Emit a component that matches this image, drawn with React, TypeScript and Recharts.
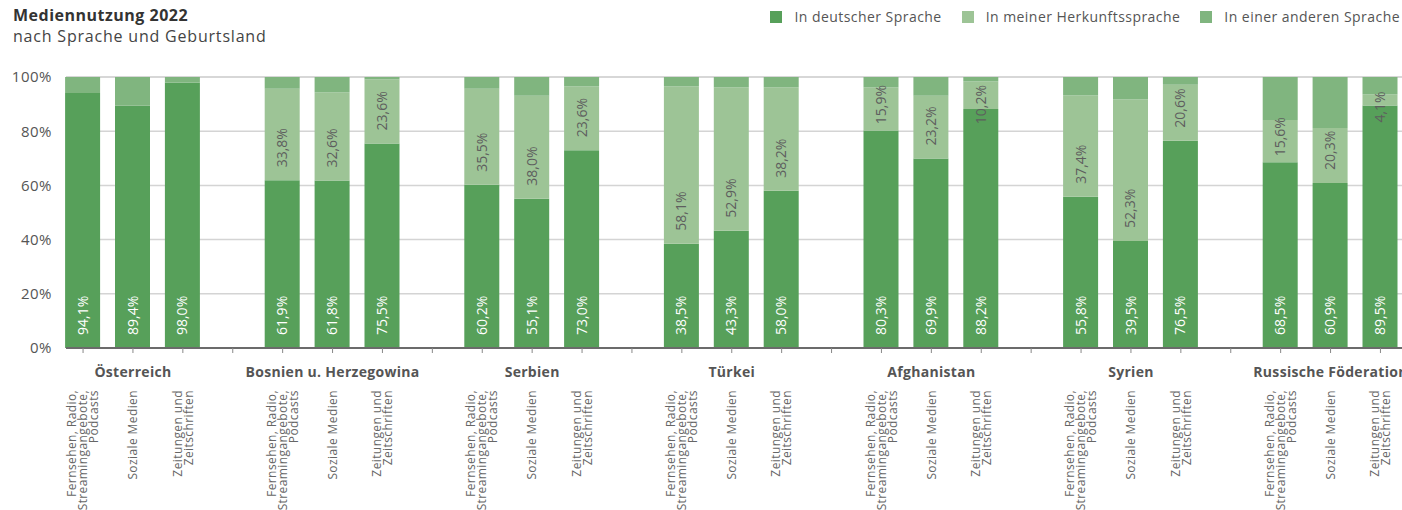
import React from 'react';
import { BarChart, Bar, XAxis, YAxis, CartesianGrid, LabelList } from 'recharts';

const countries = ['Österreich', 'Bosnien u. Herzegowina', 'Serbien', 'Türkei', 'Afghanistan', 'Syrien', 'Russische Föderation'];
const mediaLabels = [
  ['Fernsehen, Radio,', 'Streamingangebote,', 'Podcasts'],
  ['Soziale Medien'],
  ['Zeitungen und', 'Zeitschriften'],
];
const deutschValues = [94.1, 89.4, 98.0, 61.9, 61.8, 75.5, 60.2, 55.1, 73.0, 38.5, 43.3, 58.0, 80.3, 69.9, 88.2, 55.8, 39.5, 76.5, 68.5, 60.9, 89.5];
const herkunftValues = [null, null, null, 33.8, 32.6, 23.6, 35.5, 38.0, 23.6, 58.1, 52.9, 38.2, 15.9, 23.2, 10.2, 37.4, 52.3, 20.6, 15.6, 20.3, 4.1];
const andereValues = [5.9, 10.6, 2.0, 4.3, 5.6, 0.9, 4.3, 6.9, 3.4, 3.4, 3.8, 3.8, 3.8, 6.9, 1.6, 6.8, 8.2, 2.9, 15.9, 18.8, 6.4];
const yTicks = [0, 20, 40, 60, 80, 100];
const seriesNames = ['In deutscher Sprache', 'In meiner Herkunftssprache', 'In einer anderen Sprache'];
const seriesColors = ['#57a05a', '#9dc496', '#80b57f'];

const FONT = "'Open Sans', sans-serif";

const rows: any[] = [];
countries.forEach((c, ci) => {
  mediaLabels.forEach((m, mi) => {
    const i = ci * 3 + mi;
    rows.push({ id: `${ci}-${mi}`, de: deutschValues[i], herk: herkunftValues[i], andere: andereValues[i] });
  });
  rows.push({ id: `${ci}-gap` });
});

const fmt = (v: number) => v.toFixed(1).replace('.', ',') + '%';

const XTick = (props: any) => {
  const { x, y, payload } = props;
  const [cis, mis] = String(payload.value).split('-');
  if (mis === 'gap') return null;
  const ci = Number(cis);
  const mi = Number(mis);
  const lines = mediaLabels[mi];
  const cy = y + 37;
  return (
    <g>
      {mi === 1 && (
        <text x={x} y={y + 24} textAnchor="middle" fontWeight="bold" fontSize={14} fill="#555" fontFamily={FONT} letterSpacing={0.3}>
          {countries[ci]}
        </text>
      )}
      <text transform={`rotate(-90 ${x} ${cy})`} textAnchor="end" fontSize={12} fill="#666" fontFamily={FONT} letterSpacing={0.4}>
        {lines.map((l, k) => (
          <tspan key={k} x={x} y={cy + (k - (lines.length - 1) / 2) * 11 + 4.2}>
            {l}
          </tspan>
        ))}
      </text>
    </g>
  );
};

const deLabel = (p: any) => {
  const { x, y, width, height, value } = p;
  if (value == null) return null;
  const cx = Number(x) + Number(width) / 2;
  const by = Number(y) + Number(height) - 13;
  return (
    <text transform={`rotate(-90 ${cx} ${by})`} x={cx} y={by + 5} textAnchor="start" fill="#fff" fontSize={14} fontFamily={FONT}>
      {fmt(value)}
    </text>
  );
};

const herkLabel = (p: any) => {
  const { x, y, width, height, value } = p;
  if (value == null) return null;
  const cx = Number(x) + Number(width) / 2;
  const top = Number(y);
  const bottom = Number(y) + Number(height);
  const L = 39;
  const start = bottom - 13;
  if (start - L >= top - 3) {
    return (
      <text transform={`rotate(-90 ${cx} ${start})`} x={cx} y={start + 5} textAnchor="start" fill="#5e5e5e" fontSize={14} fontFamily={FONT}>
        {fmt(value)}
      </text>
    );
  }
  const end = Math.max(top - 3, 85);
  return (
    <text transform={`rotate(-90 ${cx} ${end})`} x={cx} y={end + 5} textAnchor="end" fill="#5e5e5e" fontSize={14} fontFamily={FONT}>
      {fmt(value)}
    </text>
  );
};

export default function App() {
  return (
    <div style={{ position: 'absolute', left: 0, top: 0, width: 1402, height: 510, overflow: 'hidden', background: '#fff', fontFamily: FONT }}>
      <div style={{ position: 'absolute', left: 13, top: 4, fontSize: 16, fontWeight: 'bold', color: '#333', letterSpacing: 0.5, whiteSpace: 'nowrap' }}>
        Mediennutzung 2022
      </div>
      <div style={{ position: 'absolute', left: 13, top: 25, fontSize: 16, color: '#444', letterSpacing: 0.8, whiteSpace: 'nowrap' }}>
        nach Sprache und Geburtsland
      </div>
      <div style={{ position: 'absolute', right: 2, top: 7, display: 'flex', alignItems: 'center', whiteSpace: 'nowrap' }}>
        {seriesNames.map((n, i) => (
          <div key={n} style={{ display: 'flex', alignItems: 'center', marginLeft: i === 0 ? 0 : 20 }}>
            <div style={{ width: 12, height: 12, background: seriesColors[i], marginRight: 12 }} />
            <span style={{ fontSize: 14, color: '#555', letterSpacing: 0.45 }}>{n}</span>
          </div>
        ))}
      </div>
      <div style={{ position: 'absolute', left: 0, top: 0 }}>
        <BarChart width={1466} height={510} data={rows} margin={{ top: 77, right: 0, bottom: 0, left: 0 }} barSize={35}>
          <CartesianGrid vertical={false} stroke="#d4d4d4" strokeWidth={1.5} />
          <YAxis
            domain={[0, 100]}
            ticks={yTicks}
            width={66}
            axisLine={false}
            tickLine={false}
            tickMargin={8}
            tickFormatter={(v: number) => `${v}%`}
            tick={{ fontSize: 15, fill: '#555', fontFamily: FONT, letterSpacing: 0.5 }}
          />
          <XAxis
            dataKey="id"
            interval={0}
            height={162}
            tickSize={5}
            tickMargin={0}
            padding={{ left: -7.9, right: 10.7 }}
            axisLine={{ stroke: '#6b6b6b', strokeWidth: 2 }}
            tickLine={{ stroke: '#888' }}
            tick={<XTick />}
          />
          <Bar dataKey="de" stackId="a" fill={seriesColors[0]} isAnimationActive={false}>
            <LabelList dataKey="de" content={deLabel} />
          </Bar>
          <Bar dataKey="herk" stackId="a" fill={seriesColors[1]} isAnimationActive={false}>
            <LabelList dataKey="herk" content={herkLabel} />
          </Bar>
          <Bar dataKey="andere" stackId="a" fill={seriesColors[2]} isAnimationActive={false} />
        </BarChart>
      </div>
    </div>
  );
}
